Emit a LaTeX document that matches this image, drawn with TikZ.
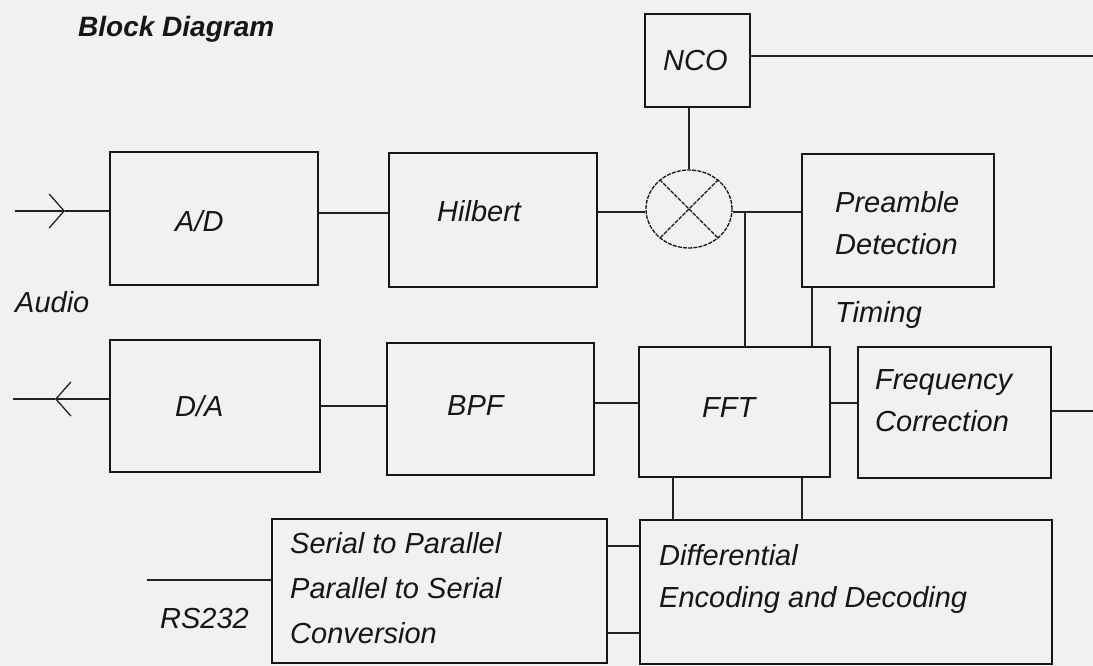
\documentclass[tikz,border=0pt]{standalone}
\usepackage{fontspec}
\setmainfont{Liberation Sans}
\usetikzlibrary{shapes.geometric,arrows.meta}
\definecolor{paper}{RGB}{241,241,241}
\definecolor{ink}{RGB}{22,22,22}
\definecolor{lineink}{RGB}{34,34,34}
\begin{document}
\begin{tikzpicture}[x=1pt,y=-1pt,
  box/.style={draw=ink, line width=2.1pt, rectangle, inner sep=0pt},
  txt/.style={inner sep=0pt, anchor=base west, font=\itshape\fontsize{29}{42}\selectfont, text=ink},
  mtxt/.style={inner sep=0pt, anchor=north west, align=left, font=\itshape\fontsize{29}{42}\selectfont, text=ink},
  wire/.style={draw=lineink, line width=1.7pt},
  barb/.style={-{Straight Barb[length=15pt,width=34pt,line width=1.3pt]}},
  mixer/.style={draw=ink, ellipse, line width=1.3pt, dash pattern=on 4pt off 1.2pt, inner sep=0pt, minimum width=86pt, minimum height=78pt}
]
\fill[paper] (0,0) rectangle (1093,666);
\useasboundingbox (0,0) rectangle (1093,666);

% blocks
\node[box, minimum width=208pt, minimum height=133pt] (ad)  at (214,218.5) {};
\node[box, minimum width=210pt, minimum height=132pt] (da)  at (215,406) {};
\node[box, minimum width=208pt, minimum height=134pt] (hil) at (493,220) {};
\node[box, minimum width=207pt, minimum height=132pt] (bpf) at (490.5,409) {};
\node[box, minimum width=105pt, minimum height=93pt]  (nco) at (697.5,60.5) {};
\node[mixer] (mix) at (689,209) {};
\node[box, minimum width=192pt, minimum height=133pt] (pre) at (898,220.5) {};
\node[box, minimum width=191pt, minimum height=130pt] (fft) at (734.5,412) {};
\node[box, minimum width=193pt, minimum height=131pt] (frq) at (954.5,412.5) {};
\node[box, minimum width=335pt, minimum height=144pt] (ser) at (439.5,591) {};
\node[box, minimum width=412pt, minimum height=144pt] (dif) at (846,592) {};

% mixer cross
\draw[ink, line width=1.3pt, dash pattern=on 4pt off 1.2pt] (mix.45) -- (mix.225) (mix.135) -- (mix.-45);

% free ends
\coordinate (inA) at (15,211);
\coordinate (tipA) at (65,211);
\coordinate (outB) at (13,399);
\coordinate (tipB) at (55,399);
\coordinate (ncoR) at (1093,56);
\coordinate (frqR) at (1093,411);
\coordinate (rs) at (147,580);

% connectors
\draw[wire,barb] (inA) -- (tipA);
\draw[wire] (tipA) -- (tipA -| ad.west);
\draw[wire,barb] (tipB -| da.west) -- (tipB);
\draw[wire] (tipB) -- (outB);
\draw[wire] (ad.east |- 0,213) -- (hil.west |- 0,213);
\draw[wire] (hil.east |- 0,212) -- (mix.west |- 0,212);
\draw[wire] (mix.east |- 0,212) -- (pre.west |- 0,212);
\draw[wire] (fft.north -| 745,0) -- (745,212);
\draw[wire] (mix.north) -- (mix.north |- nco.south);
\draw[wire] (nco.east |- ncoR) -- (ncoR);
\draw[wire] (pre.south -| 812,0) -- (fft.north -| 812,0);
\draw[wire] (da.east |- 0,406) -- (bpf.west |- 0,406);
\draw[wire] (bpf.east |- 0,403) -- (fft.west |- 0,403);
\draw[wire] (fft.east |- 0,403) -- (frq.west |- 0,403);
\draw[wire] (frq.east |- frqR) -- (frqR);
\draw[wire] (fft.south -| 673,0) -- (dif.north -| 673,0);
\draw[wire] (fft.south -| 802,0) -- (dif.north -| 802,0);
\draw[wire] (ser.east |- 0,546) -- (dif.west |- 0,546);
\draw[wire] (ser.east |- 0,633) -- (dif.west |- 0,633);
\draw[wire] (rs) -- (rs -| ser.west);

% texts
\node[txt, font=\bfseries\itshape\fontsize{28}{34}\selectfont] (title) at (78,37) {Block Diagram};
\node[txt] (adT)  at (175,231) {A/D};
\node[txt] (daT)  at (175,416) {D/A};
\node[txt] (hilT) at (437,222) {Hilbert};
\node[txt] (bpfT) at (447,415) {BPF};
\node[txt] (ncoT) at (663,71) {NCO};
\node[txt] (fftT) at (702,417) {FFT};
\node[mtxt] (preT) at (835,191) {Preamble\\Detection};
\node[txt] (timT) at (835,322) {Timing};
\node[mtxt] (frqT) at (875,369) {Frequency\\Correction};
\node[txt] (audT) at (15,312) {Audio};
\node[txt] (rsT)  at (160,628) {RS232};
\node[mtxt, font=\itshape\fontsize{29}{45}\selectfont] (serT) at (290,532) {Serial to Parallel\\Parallel to Serial\\Conversion};
\node[mtxt] (difT) at (659,544) {Differential\\Encoding and Decoding};
\end{tikzpicture}
\end{document}
